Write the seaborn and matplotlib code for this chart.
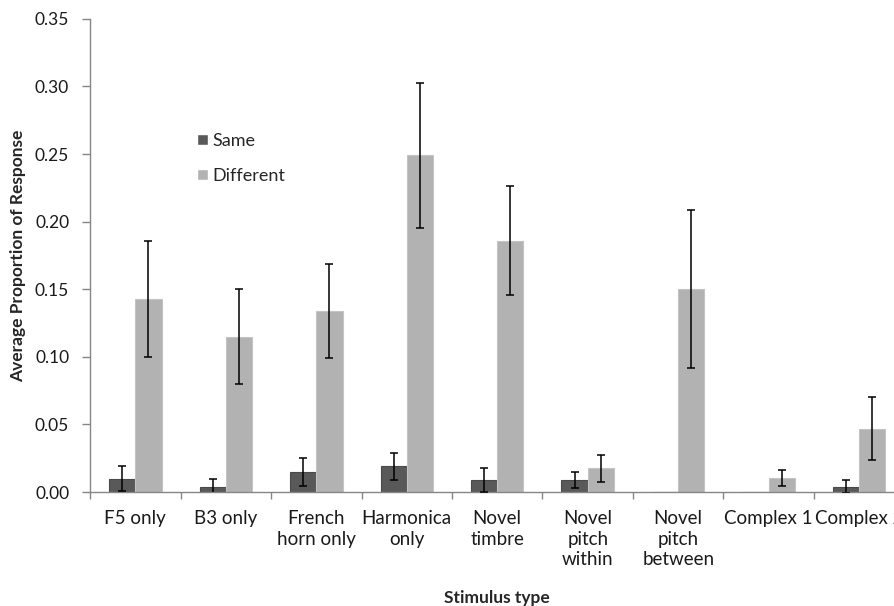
import numpy as np
import pandas as pd
import matplotlib
matplotlib.use("Agg")
import matplotlib.pyplot as plt
import seaborn as sns

# values
categories = ["F5 only", "B3 only", "French\nhorn only", "Harmonica\nonly", "Novel\ntimbre",
              "Novel\npitch\nwithin", "Novel\npitch\nbetween", "Complex 1", "Complex 2"]
same_mean = [0.010, 0.004, 0.015, 0.019, 0.009, 0.009, 0.0, 0.0, 0.004]
same_err = [0.0095, 0.0055, 0.0105, 0.010, 0.009, 0.006, np.nan, np.nan, 0.005]
diff_mean = [0.143, 0.115, 0.134, 0.249, 0.186, 0.0175, 0.150, 0.0105, 0.047]
diff_err = [0.043, 0.035, 0.0345, 0.0535, 0.0405, 0.0097, 0.0585, 0.0058, 0.0235]
groups = ["Same", "Different"]

df = pd.DataFrame({
    "stimulus": categories * 2,
    "group": [groups[0]] * len(categories) + [groups[1]] * len(categories),
    "value": same_mean + diff_mean,
})

sns.set_style("white")
plt.rcParams["font.family"] = ["Lato", "DejaVu Sans"]

fig = plt.figure(figsize=(8.94, 6.06), dpi=100)
ax = fig.add_axes([0.1007, 0.188, 0.911, 0.781])

palette = {"Same": "#595959", "Different": "#b2b2b2"}
sns.barplot(data=df, x="stimulus", y="value", hue="group", order=categories,
            hue_order=groups, palette=palette, width=0.58, errorbar=None,
            saturation=1, ax=ax)

edges = {"Same": "#4a4a4a", "Different": "#c4c4c4"}
errs = {"Same": same_err, "Different": diff_err}
for cont, g in zip(ax.containers, groups):
    for p, e in zip(cont.patches, errs[g]):
        p.set_edgecolor(edges[g])
        p.set_linewidth(0.8)
        if np.isnan(e) or p.get_height() == 0:
            continue
        xc = p.get_x() + p.get_width() / 2
        ax.errorbar(xc, p.get_height(), yerr=e, color="black", elinewidth=1.1,
                    capsize=3, capthick=1.1, fmt="none", zorder=5)

ax.set_ylim(0, 0.35)
ax.set_xlim(-0.5, len(categories) - 0.5)
ax.set_yticks(np.arange(0, 0.351, 0.05))
ax.set_yticklabels([f"{v:.2f}" for v in np.arange(0, 0.351, 0.05)])
ax.set_xticks(range(len(categories)))
ax.set_xticklabels(categories, fontsize=13.5, color="#1a1a1a", linespacing=1.25)
ax.tick_params(axis="x", length=0, pad=13)
ax.tick_params(axis="y", labelsize=12.5, colors="#1a1a1a", length=6, width=1,
               color="#868686", direction="out", left=True, pad=9)
ax.set_xticks(np.arange(-0.5, len(categories), 1), minor=True)
ax.tick_params(axis="x", which="minor", length=5, width=1, color="#868686",
               direction="out", bottom=True)

for side in ["top", "right"]:
    ax.spines[side].set_visible(False)
for side in ["left", "bottom"]:
    ax.spines[side].set_color("#868686")
    ax.spines[side].set_linewidth(1)

ax.set_ylabel("Average Proportion of Response", fontsize=12.5, fontweight="bold", labelpad=6)
ax.set_xlabel("Stimulus type", fontsize=12.5, fontweight="bold", labelpad=15.5)

leg = ax.legend(loc="upper left", bbox_to_anchor=(0.112, 0.793), frameon=False,
                fontsize=13, handlelength=0.6, handleheight=0.6,
                handletextpad=0.25, labelspacing=1.05)

fig.savefig("out.png", dpi=100)
